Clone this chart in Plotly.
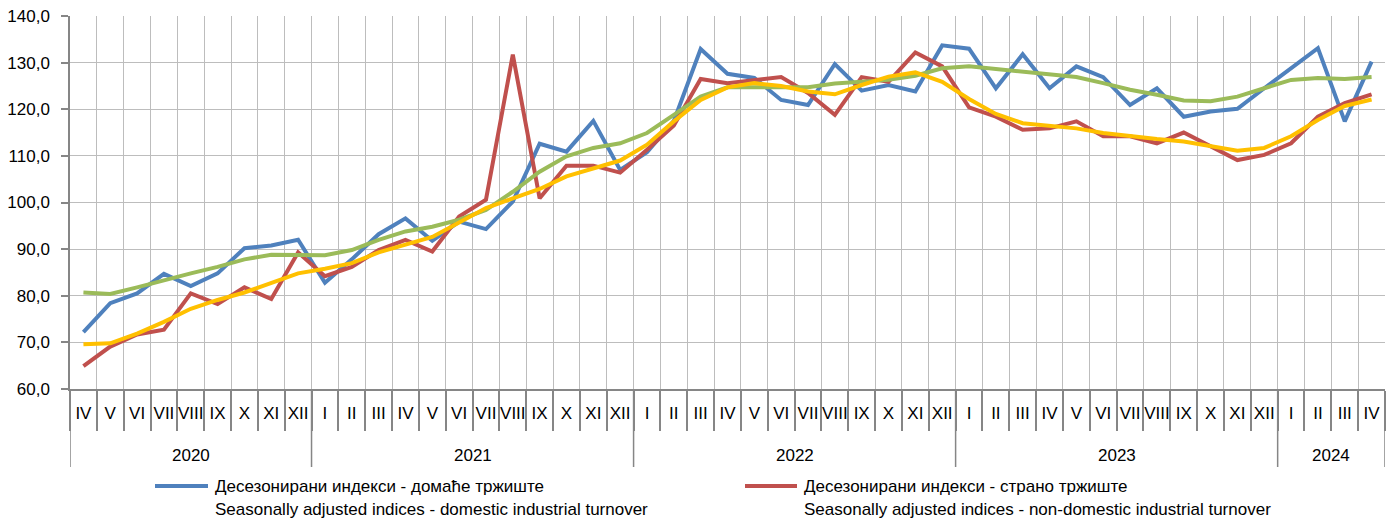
import plotly.graph_objects as go

# ---------------- data ----------------
years = ["2020", "2021", "2022", "2023", "2024"]
months_2020 = ["IV", "V", "VI", "VII", "VIII", "IX", "X", "XI", "XII"]
months_full = ["I", "II", "III", "IV", "V", "VI", "VII", "VIII", "IX", "X", "XI", "XII"]
months_2024 = ["I", "II", "III", "IV"]
months = months_2020 + months_full * 3 + months_2024
year_of_point = (["2020"] * 9 + ["2021"] * 12 + ["2022"] * 12 + ["2023"] * 12 + ["2024"] * 4)

domestic = [72.2, 78.4, 80.5, 84.7, 82.1, 84.8, 90.2, 90.8, 92.0,
            82.8, 87.8, 93.2, 96.6, 91.8, 95.9, 94.3, 100.2, 112.6, 110.9, 117.5, 107.0,
            110.8, 117.5, 132.9, 127.6, 126.7, 122.0, 120.9, 129.7, 124.0, 125.2, 123.8, 133.7,
            133.0, 124.5, 131.8, 124.5, 129.2, 126.9, 120.9, 124.5, 118.4, 119.5, 120.1, 124.5,
            128.8, 133.1, 117.4, 130.2]
non_domestic = [64.9, 69.1, 71.7, 72.7, 80.5, 78.2, 81.8, 79.3, 89.3,
                84.2, 86.2, 89.8, 92.0, 89.5, 97.0, 100.6, 131.7, 100.9, 107.9, 107.9, 106.4,
                111.3, 116.5, 126.5, 125.6, 126.3, 126.9, 123.5, 118.8, 126.9, 125.9, 132.2, 129.2,
                120.4, 118.4, 115.6, 115.9, 117.4, 114.2, 114.2, 112.7, 115.0, 112.0, 109.1, 110.2,
                112.7, 118.4, 121.3, 123.2]
trend_domestic = [80.7, 80.4, 81.8, 83.4, 84.8, 86.2, 87.8, 88.8, 88.8,
                  88.7, 89.8, 92.0, 93.8, 94.8, 96.3, 98.4, 102.3, 106.6, 109.9, 111.7, 112.7,
                  114.9, 118.8, 122.7, 124.7, 124.7, 124.5, 124.7, 125.5, 125.9, 126.3, 127.2, 128.8,
                  129.2, 128.6, 128.1, 127.6, 126.9, 125.6, 124.2, 123.1, 121.9, 121.7, 122.7, 124.5,
                  126.3, 126.7, 126.5, 126.9]
trend_non_domestic = [69.6, 69.8, 71.9, 74.4, 77.2, 79.1, 80.7, 82.7, 84.8,
                      85.8, 87.0, 89.3, 90.9, 92.6, 95.7, 98.8, 100.9, 102.9, 105.6, 107.4, 109.0,
                      112.4, 117.4, 122.0, 124.7, 125.6, 125.0, 123.8, 123.2, 125.2, 127.0, 127.9, 125.9,
                      122.2, 119.0, 117.0, 116.4, 115.9, 114.9, 114.2, 113.6, 113.1, 112.0, 111.1, 111.7,
                      114.2, 117.7, 120.7, 122.1]

legend_domestic = ["Десезонирани индекси - домаће тржиште",
                   "Seasonally adjusted indices - domestic industrial turnover"]
legend_non_domestic = ["Десезонирани индекси - страно тржиште",
                       "Seasonally adjusted indices - non-domestic industrial turnover"]

# ---------------- style ----------------
FONT = "Liberation Sans, Arial, sans-serif"
FS = 17
BLUE, RED, GREEN, YELLOW = "#4F81BD", "#C0504D", "#9BBB59", "#FFC000"
AXIS = "#868686"
GRID = "#BDBDBD"
OFF = 8                      # page body margin
W, H = 1394 - OFF, 521 - OFF
PLOT_L, PLOT_R, PLOT_T, PLOT_B = 70, 1385, 16, 389   # target page pixels
L = PLOT_L - OFF
T = PLOT_T - OFF
R = W - (PLOT_R - OFF)
B = H - (PLOT_B - OFF)
PW, PH = W - L - R, H - T - B

def px_x(px):
    return (px - PLOT_L) / PW

def px_y(py):
    return (PLOT_B - py) / PH

x = list(range(len(months)))

fig = go.Figure()
for vals, col, name in [(domestic, BLUE, legend_domestic[0]),
                        (non_domestic, RED, legend_non_domestic[0]),
                        (trend_domestic, GREEN, "trend domestic"),
                        (trend_non_domestic, YELLOW, "trend non-domestic")]:
    fig.add_trace(go.Scatter(x=x, y=vals, mode="lines", name=name,
                             line=dict(color=col, width=4), showlegend=False))

# year separators and labels
shapes = []
annotations = []
bounds = [-0.5]
pos = -0.5
for yr in years:
    n = year_of_point.count(yr)
    centre = pos + n / 2
    annotations.append(dict(x=centre, xref="x", y=px_y(455), yref="paper", text=yr,
                            showarrow=False, font=dict(size=FS, color="#000000", family=FONT),
                            xanchor="center", yanchor="middle"))
    pos += n
    bounds.append(pos)
for b in bounds:
    shapes.append(dict(type="line", xref="x", yref="paper", x0=b, x1=b,
                       y0=0, y1=px_y(467), line=dict(color=AXIS, width=1.5)))

# manual legend
for (x0, x1, tx, col, texts) in [(155, 208, 213, BLUE, legend_domestic),
                                 (745, 797, 802, RED, legend_non_domestic)]:
    shapes.append(dict(type="line", xref="paper", yref="paper",
                       x0=px_x(x0), x1=px_x(x1), y0=px_y(486), y1=px_y(486),
                       line=dict(color=col, width=4)))
    for i, t in enumerate(texts):
        annotations.append(dict(x=px_x(tx), xref="paper", y=px_y(486 + 23 * i), yref="paper",
                                text=t, showarrow=False, xanchor="left", yanchor="middle",
                                font=dict(size=FS, color="#000000", family=FONT)))

fig.update_layout(
    width=W, height=H,
    margin=dict(l=L, r=R, t=T, b=B, pad=0, autoexpand=False),
    paper_bgcolor="white", plot_bgcolor="white",
    separators=",.",
    font=dict(family=FONT, size=FS, color="#000000"),
    showlegend=False,
    shapes=shapes, annotations=annotations,
    xaxis=dict(range=[-0.5, len(months) - 0.5], tickmode="array", tickvals=x, ticktext=months,
               ticks="", showgrid=False, zeroline=False, automargin=False,
               showline=True, linecolor=AXIS, linewidth=1.5,
               ticklabelstandoff=8, tickangle=0, ticklabeloverflow="allow",
               tickfont=dict(size=FS, family=FONT, color="#000000"),
               minor=dict(tickmode="linear", tick0=-0.5, dtick=1, ticks="outside", ticklen=40,
                          tickcolor=AXIS, tickwidth=1.5, showgrid=True, gridcolor=GRID, gridwidth=1.2)),
    yaxis=dict(range=[60, 140], tickmode="linear", tick0=60, dtick=10, tickformat=".1f",
               showgrid=True, gridcolor=GRID, gridwidth=1.2, zeroline=False, automargin=False,
               showline=True, linecolor=AXIS, linewidth=1.5,
               ticks="outside", ticklen=7, tickcolor=AXIS, tickwidth=1.5,
               ticklabelstandoff=8, ticklabeloverflow="allow",
               tickfont=dict(size=FS, family=FONT, color="#000000")),
)

fig.write_html("out.html")
